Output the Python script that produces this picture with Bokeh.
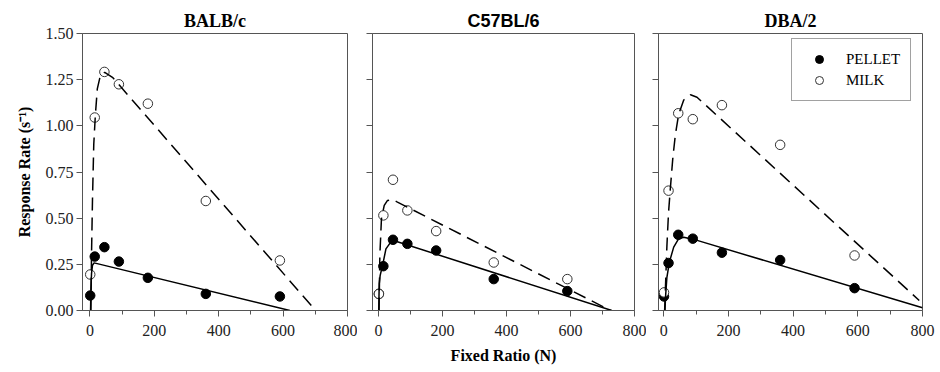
from bokeh.plotting import figure
from bokeh.layouts import row
from bokeh.models import FixedTicker, NumeralTickFormatter, Legend, LegendItem, Range1d
from bokeh.embed import file_html
from bokeh.resources import INLINE

# ---------------- data ----------------
strains = ["BALB/c", "C57BL/6", "DBA/2"]
fixed_ratio = [1, 15, 45, 90, 180, 360, 590]

balbc_pellet = [0.081, 0.292, 0.343, 0.265, 0.177, 0.090, 0.076]
balbc_milk = [0.195, 1.045, 1.292, 1.225, 1.120, 0.593, 0.271]
c57_pellet = [0.090, 0.240, 0.383, 0.361, 0.325, 0.170, 0.105]
c57_milk = [0.090, 0.515, 0.708, 0.542, 0.430, 0.260, 0.170]
dba_pellet = [0.076, 0.257, 0.410, 0.389, 0.313, 0.273, 0.121]
dba_milk = [0.098, 0.649, 1.068, 1.036, 1.112, 0.897, 0.298]

# fitted curves
balbc_pellet_fit_x = [2, 3, 5, 8, 13, 621]
balbc_pellet_fit_y = [0.0, 0.10, 0.20, 0.245, 0.258, 0.0]
balbc_milk_fit_x = [3, 5, 8, 12, 17, 23, 33, 46, 70, 701]
balbc_milk_fit_y = [0.0, 0.30, 0.60, 0.90, 1.06, 1.20, 1.276, 1.29, 1.263, 0.0]
c57_pellet_fit_x = [0.5, 2, 5, 12.5, 23, 38, 54, 729]
c57_pellet_fit_y = [0.0, 0.144, 0.19, 0.244, 0.334, 0.370, 0.375, 0.0]
c57_milk_fit_x = [1.5, 4, 9, 17.7, 28, 43.6, 59, 725]
c57_milk_fit_y = [0.0, 0.30, 0.497, 0.569, 0.596, 0.601, 0.587, 0.0]
dba_pellet_fit_x = [4, 6, 10, 17.6, 31, 46, 62, 93, 800]
dba_pellet_fit_y = [0.0, 0.08, 0.18, 0.262, 0.343, 0.388, 0.397, 0.385, 0.015]
dba_milk_fit_x = [3, 6, 10, 15, 20.6, 28, 36, 46, 62, 83, 103, 790]
dba_milk_fit_y = [0.0, 0.15, 0.35, 0.53, 0.66, 0.82, 0.95, 1.06, 1.14, 1.168, 1.155, 0.054]

y_ticks = [0, 0.25, 0.5, 0.75, 1.0, 1.25, 1.5]
x_ticks = [0, 200, 400, 600, 800]
x_minor_ticks = [100, 300, 500, 700]

panels = [
    (balbc_pellet, balbc_milk, balbc_pellet_fit_x, balbc_pellet_fit_y, balbc_milk_fit_x, balbc_milk_fit_y),
    (c57_pellet, c57_milk, c57_pellet_fit_x, c57_pellet_fit_y, c57_milk_fit_x, c57_milk_fit_y),
    (dba_pellet, dba_milk, dba_pellet_fit_x, dba_pellet_fit_y, dba_milk_fit_x, dba_milk_fit_y),
]

# ---------------- layout ----------------
SERIF = "Liberation Serif"
SANS = "Liberation Sans"
x_start = [-23, -19, -16]
widths = [357, 289, 294]
border_left = [82, 15, 12]
border_right = [10, 12, 18]
title_fonts = [SERIF, SANS, SERIF]
AX = "#555555"

figs = []
for i, name in enumerate(strains):
    pel, mil, pfx, pfy, mfx, mfy = panels[i]
    p = figure(width=widths[i], height=372,
               x_range=Range1d(x_start[i], 800), y_range=Range1d(0, 1.5),
               output_backend="svg", toolbar_location=None,
               min_border_left=border_left[i], min_border_right=border_right[i],
               min_border_top=33, min_border_bottom=62, title=name)
    p.xgrid.visible = False
    p.ygrid.visible = False
    p.outline_line_color = AX
    p.outline_line_width = 1
    p.background_fill_color = "white"
    p.border_fill_color = "white"

    p.title.align = "center"
    p.title.text_font = title_fonts[i]
    p.title.text_font_size = "18px"
    p.title.text_font_style = "bold"
    p.title.text_color = "black"
    p.title.standoff = 6

    xa = p.xaxis[0]
    xa.ticker = FixedTicker(ticks=x_ticks, minor_ticks=x_minor_ticks)
    xa.major_label_text_font = SERIF
    xa.major_label_text_font_size = "16px"
    xa.major_label_text_color = "#222222"
    xa.major_label_standoff = 8
    xa.axis_line_color = AX
    xa.major_tick_line_color = AX
    xa.minor_tick_line_color = AX
    xa.major_tick_in = 0
    xa.major_tick_out = 6
    xa.minor_tick_in = 0
    xa.minor_tick_out = 4
    if i == 1:
        xa.axis_label = "Fixed Ratio (N)"
        xa.axis_label_text_font = SERIF
        xa.axis_label_text_font_size = "16px"
        xa.axis_label_text_font_style = "bold"
        xa.axis_label_text_color = "black"
        xa.axis_label_standoff = 8

    ya = p.yaxis[0]
    ya.ticker = FixedTicker(ticks=y_ticks)
    ya.axis_line_color = AX
    ya.major_tick_line_color = AX
    ya.minor_tick_line_color = None
    ya.major_tick_in = 0
    ya.major_tick_out = 6
    if i == 0:
        ya.formatter = NumeralTickFormatter(format="0.00")
        ya.major_label_text_font = SERIF
        ya.major_label_text_font_size = "16px"
        ya.major_label_text_color = "#222222"
        ya.major_label_standoff = 3
        ya.axis_label = "Response Rate (s\u207b\u00b9)"
        ya.axis_label_text_font = SERIF
        ya.axis_label_text_font_size = "16px"
        ya.axis_label_text_font_style = "bold"
        ya.axis_label_text_color = "black"
        ya.axis_label_standoff = 10
    else:
        ya.major_label_overrides = {t: "" for t in y_ticks}
        ya.major_label_standoff = 0

    r_f = p.scatter(fixed_ratio, pel, marker="circle", size=9.5,
                    fill_color="black", line_color="black")
    r_o = p.scatter(fixed_ratio, mil, marker="circle", size=9.5,
                    fill_color="white", line_color="#333333", line_width=1)
    p.line(pfx, pfy, line_color="black", line_width=1.5)
    p.line(mfx, mfy, line_color="black", line_width=1.5, line_dash="13 7")

    if i == 2:
        legend = Legend(items=[LegendItem(label="PELLET", renderers=[r_f]),
                               LegendItem(label="MILK", renderers=[r_o])],
                        location=(133, 209), padding=10, spacing=1,
                        glyph_width=34, glyph_height=20, label_standoff=10,
                        margin=0, border_line_color="#444444", border_line_width=1,
                        background_fill_color="white", background_fill_alpha=1.0,
                        label_text_font=SERIF, label_text_font_size="15px",
                        label_text_color="black")
        p.add_layout(legend)
    figs.append(p)

layout = row(*figs)
open("out.html", "w", encoding="utf-8").write(file_html(layout, INLINE))
